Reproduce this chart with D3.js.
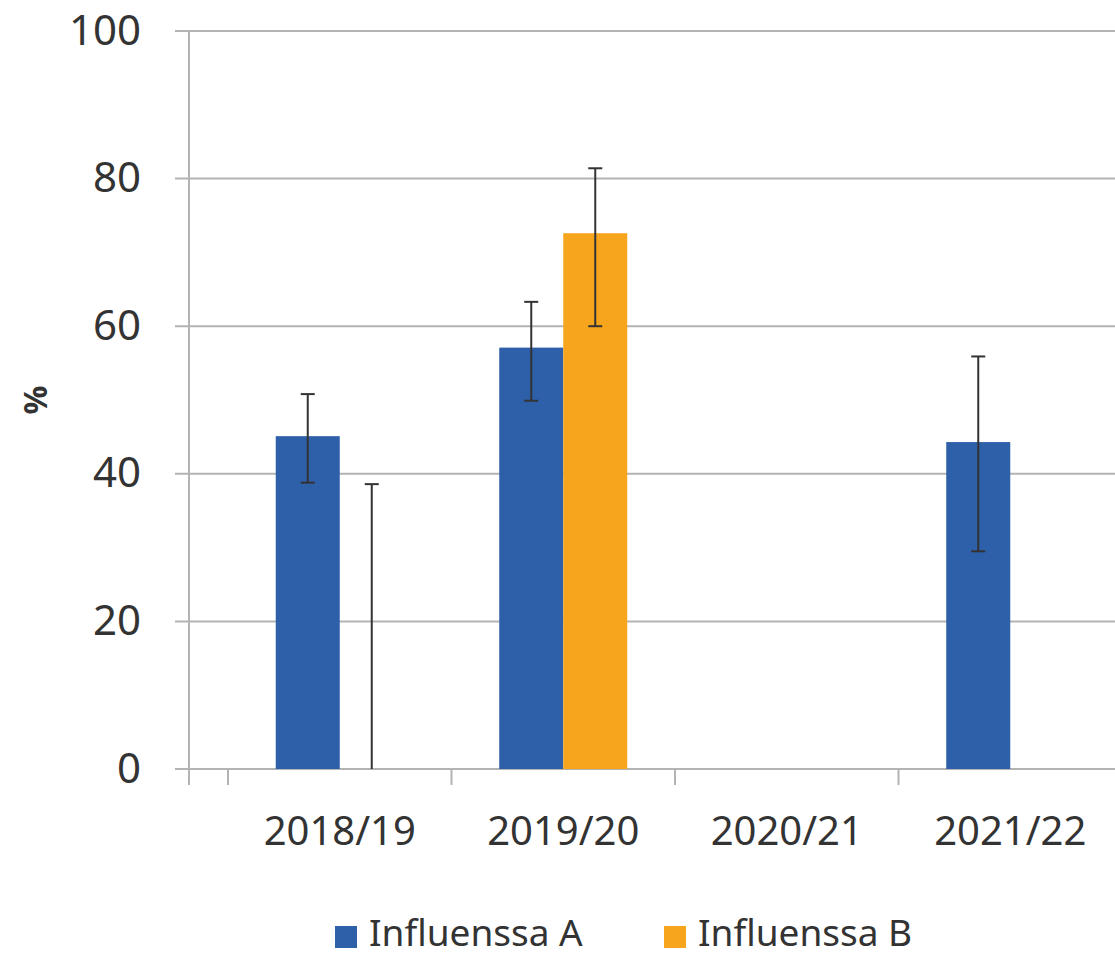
<!DOCTYPE html>
<html>
<head>
<meta charset="utf-8">
<script src="https://cdn.jsdelivr.net/npm/d3@7"></script>
<style>
  body { margin: 0; background: #fff; }
  text { font-family: "Noto Sans", sans-serif; fill: #333; }
</style>
</head>
<body>
<div id="chart"></div>
<script>
// seasons and values (%)
var categories = ["2018/19", "2019/20", "2020/21", "2021/22"]
var seriesNames = ["Influenssa A", "Influenssa B"]
var influenssaA = [45.1, 57.1, null, 44.3]
var influenssaB = [0, 72.6, null, null]
var lowA = [38.8, 49.9, null, 29.5]
var highA = [50.8, 63.3, null, 55.9]
var lowB = [0, 60.0, null, null]
var highB = [38.6, 81.4, null, null]
var yTicks = [0, 20, 40, 60, 80, 100]
var colors = ["#2e5fa9", "#f7a51c"]

var svgSize = { width: 1115, height: 956 }

var svg = d3.select("#chart").append("svg")
    .attr("width", svgSize.width)
    .attr("height", svgSize.height)

var plot = { left: 189, top: 31, bottom: 769 }

var y = d3.scaleLinear().domain([0, 100]).range([plot.bottom, plot.top])

var x0 = d3.scaleBand().domain(categories).range([228, 1122])
var x1 = d3.scaleBand().domain(seriesNames).range([0, x0.bandwidth()]).paddingOuter(0.746)

// gridlines
svg.append("g").selectAll("line").data(yTicks).enter().append("line")
    .attr("x1", 175).attr("x2", svgSize.width)
    .attr("y1", d => y(d)).attr("y2", d => y(d))
    .attr("stroke", "#b3b3b3").attr("stroke-width", 2)

// y axis line
svg.append("line")
    .attr("x1", plot.left).attr("x2", plot.left)
    .attr("y1", plot.top).attr("y2", plot.bottom + 16)
    .attr("stroke", "#b3b3b3").attr("stroke-width", 2)

// y tick labels
svg.append("g").selectAll("text").data(yTicks).enter().append("text")
    .attr("x", 141).attr("y", d => y(d) - 3)
    .attr("text-anchor", "end").attr("dominant-baseline", "central")
    .style("font-size", "42px")
    .text(d => d)

// x ticks (category boundaries)
var bounds = categories.map(c => x0(c))
svg.append("g").selectAll("line").data(bounds).enter().append("line")
    .attr("x1", d => d).attr("x2", d => d)
    .attr("y1", plot.bottom).attr("y2", plot.bottom + 16)
    .attr("stroke", "#b3b3b3").attr("stroke-width", 2)

svg.append("g").selectAll("text").data(categories).enter().append("text")
    .attr("x", d => x0(d) + x0.bandwidth() / 2).attr("y", 845)
    .attr("text-anchor", "middle")
    .style("font-size", "40px")
    .text(d => d)

// bars
var series = [
    { name: seriesNames[0], values: influenssaA, low: lowA, high: highA, color: colors[0] },
    { name: seriesNames[1], values: influenssaB, low: lowB, high: highB, color: colors[1] }
]

series.forEach(s => {
    var pts = categories.map((c, i) => ({ cat: c, v: s.values[i] }))
        .filter(d => d.v !== null && d.v > 0)
    svg.append("g").selectAll("rect").data(pts).enter().append("rect")
        .attr("x", d => x0(d.cat) + x1(s.name))
        .attr("width", x1.bandwidth())
        .attr("y", d => y(d.v))
        .attr("height", d => y(0) - y(d.v))
        .attr("fill", s.color)
})

// error bars on top
series.forEach(s => {
    var pts = categories.map((c, i) => ({ cat: c, lo: s.low[i], hi: s.high[i] }))
        .filter(d => d.lo !== null)
    var g = svg.append("g").attr("stroke", "#333").attr("stroke-width", 2)
    pts.forEach(d => {
        var cx = x0(d.cat) + x1(s.name) + x1.bandwidth() / 2
        g.append("line").attr("x1", cx).attr("x2", cx).attr("y1", y(d.lo)).attr("y2", y(d.hi))
        g.append("line").attr("x1", cx - 7).attr("x2", cx + 7).attr("y1", y(d.hi)).attr("y2", y(d.hi))
        if (d.lo > 0)
            g.append("line").attr("x1", cx - 7).attr("x2", cx + 7).attr("y1", y(d.lo)).attr("y2", y(d.lo))
    })
})

// y axis title
svg.append("text")
    .attr("transform", "translate(47,400) rotate(-90)")
    .attr("text-anchor", "middle")
    .style("font-size", "32px").style("font-weight", "bold")
    .text("%")

// legend
var legendX = [335, 664]
var legend = svg.append("g")
seriesNames.forEach((n, i) => {
    legend.append("rect")
        .attr("x", legendX[i]).attr("y", 926)
        .attr("width", 22).attr("height", 22)
        .attr("fill", colors[i])
    legend.append("text")
        .attr("x", legendX[i] + 34).attr("y", 946)
        .style("font-size", "37px")
        .text(n)
})
</script>
</body>
</html>
